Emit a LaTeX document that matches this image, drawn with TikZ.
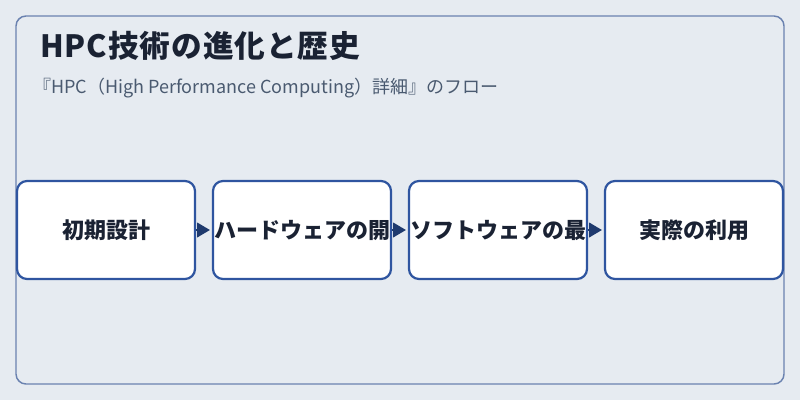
\documentclass[tikz,border=0pt]{standalone}
\usepackage{fontspec}
\setmainfont{Noto Sans CJK JP}
\usetikzlibrary{arrows.meta}
\definecolor{bgc}{HTML}{E6EBF1}
\definecolor{panelc}{HTML}{6A82B0}
\definecolor{boxc}{HTML}{2F55A0}
\definecolor{arrc}{HTML}{1F3A6E}
\definecolor{txtc}{HTML}{1A2233}
\definecolor{subc}{HTML}{4A5A70}
\begin{document}
\begin{tikzpicture}[x=0.75pt,y=-0.75pt,
  stepbox/.style={draw=boxc,line width=2.2pt*0.75,fill=white,rounded corners=7.5pt,minimum width=178*0.75pt,minimum height=98*0.75pt,inner sep=0pt},
  steptext/.style={font=\bfseries\fontsize{16.5pt}{19pt}\selectfont,text=txtc},
  flow/.style={draw=arrc,line width=1pt,-{Triangle[length=9.5pt,width=11pt]},shorten >=1.5pt}]
\fill[bgc] (0,0) rectangle (800,400);
\useasboundingbox (0,0) rectangle (800,400);
\draw[panelc,line width=1.1pt,rounded corners=7.5pt] (16,16) rectangle (784,384);
\node[anchor=west,inner sep=0pt,text=txtc,font=\bfseries\fontsize{23pt}{27pt}\selectfont\addfontfeatures{LetterSpace=3}] (title) at (40,46) {HPC技術の進化と歴史};
\node[anchor=west,inner sep=0pt,text=subc,font=\fontsize{13.5pt}{16pt}\selectfont] (sub) at (33,88) {『HPC（High Performance Computing）詳細』のフロー};
\node[stepbox] (b1) at (106,230) {};
\node[stepbox] (b2) at (302,230) {};
\node[stepbox] (b3) at (498,230) {};
\node[stepbox] (b4) at (694,230) {};
\draw[flow] (b1.east) -- (b2.west);
\draw[flow] (b2.east) -- (b3.west);
\draw[flow] (b3.east) -- (b4.west);
\node[steptext] (t1) at (b1.center) {初期設計};
\node[steptext] (t2) at (b2.center) {ハードウェアの開};
\node[steptext] (t3) at (b3.center) {ソフトウェアの最};
\node[steptext] (t4) at (b4.center) {実際の利用};
\end{tikzpicture}
\end{document}
